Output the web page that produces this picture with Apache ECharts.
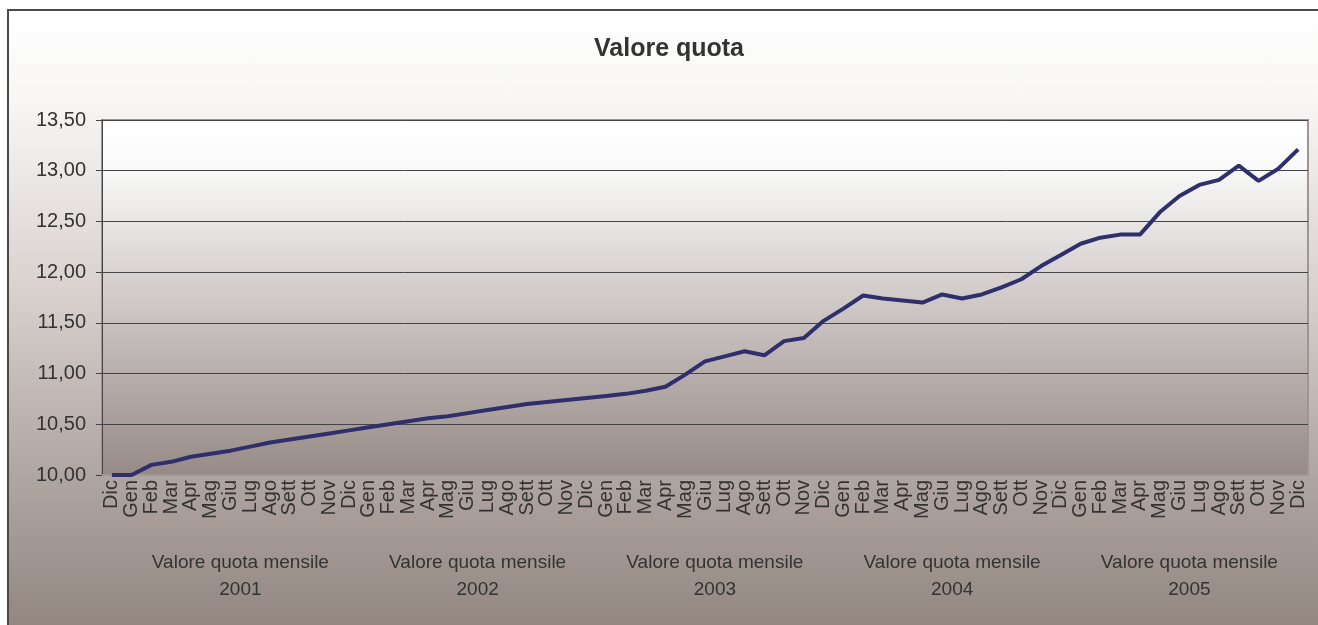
<!DOCTYPE html>
<html>
	<head>
		<meta charset="utf-8" />
		<title>Valore quota</title>
		<script src="https://cdn.jsdelivr.net/npm/echarts@6/dist/echarts.min.js"></script>
		<style>
			body { margin: 0; background: #fff; }
			#frame {
				position: absolute; left: 7px; top: 9px; width: 1311px; height: 616px;
				border-left: 2px solid #4a4a4a; border-top: 2px solid #4a4a4a;
				box-sizing: border-box;
				background: linear-gradient(to bottom, #ffffff 0%, #f7f6f5 15%, #d9d2cf 45%, #b0a6a2 75%, #948782 100%);
			}
			#main { position: absolute; left: 0; top: 0; width: 1318px; height: 625px; }
		</style>
	</head>
	<body>
		<div id="frame"></div>
		<div id="main"></div>
		<script>
			// mesi (etichette asse x)
			var mesi = ['Gen', 'Feb', 'Mar', 'Apr', 'Mag', 'Giu', 'Lug', 'Ago', 'Sett', 'Ott', 'Nov', 'Dic'];
			var anni = ['2001', '2002', '2003', '2004', '2005'];
			var gruppo = 'Valore quota mensile';
			// Dic 2000 + 5 anni di mesi
			var categorie = ['Dic'];
			anni.forEach(function () { categorie = categorie.concat(mesi); });

			// valore quota mensile
			var valori = [
				10.00,
				10.00, 10.10, 10.13, 10.18, 10.21, 10.24, 10.28, 10.32, 10.35, 10.38, 10.41, 10.44,
				10.47, 10.50, 10.53, 10.56, 10.58, 10.61, 10.64, 10.67, 10.70, 10.72, 10.74, 10.76,
				10.78, 10.80, 10.83, 10.87, 10.99, 11.12, 11.17, 11.22, 11.18, 11.32, 11.35, 11.52,
				11.64, 11.77, 11.74, 11.72, 11.70, 11.78, 11.74, 11.78, 11.85, 11.93, 12.06, 12.17,
				12.28, 12.34, 12.37, 12.37, 12.59, 12.75, 12.86, 12.91, 13.05, 12.90, 13.02, 13.21
			];

			// centro di ogni anno sull'asse (indice categoria)
			var centriAnni = anni.map(function (a, i) { return 6.5 + i * 12; });

			var font = 'Liberation Sans, Arial, sans-serif';
			var mycharts = echarts.init(document.getElementById('main'));
			var option = {
				backgroundColor: 'transparent',
				title: {
					text: 'Valore quota',
					left: 664,
					top: 32,
					textAlign: 'center',
					textStyle: { fontFamily: font, fontSize: 25, fontWeight: 'bold', color: '#333' }
				},
				grid: {
					left: 102, right: 10, top: 120, bottom: 150,
					show: true,
					borderColor: '#a09590',
					borderWidth: 2,
					backgroundColor: {
						type: 'linear', x: 0, y: 0, x2: 0, y2: 1,
						colorStops: [
							{ offset: 0, color: '#ffffff' },
							{ offset: 0.12, color: '#fbfbfb' },
							{ offset: 1, color: '#978a86' }
						]
					}
				},
				xAxis: [
					{
						type: 'category',
						data: categorie,
						boundaryGap: true,
						axisLine: { lineStyle: { color: '#a39894', width: 2 } },
						axisTick: { show: false },
						axisLabel: {
							interval: 0,
							rotate: 90,
							margin: 5,
							fontFamily: font,
							fontSize: 20,
							color: '#333'
						}
					},
					{
						// etichette di gruppo per anno
						type: 'value',
						position: 'bottom',
						min: -0.5,
						max: 60.5,
						axisLine: { show: false },
						axisTick: { show: false },
						splitLine: { show: false },
						axisLabel: {
							customValues: centriAnni,
							margin: 74,
							fontFamily: font,
							fontSize: 19,
							lineHeight: 27,
							color: '#333',
							formatter: function (v) {
								var i = Math.round((v - 6.5) / 12);
								return gruppo + '\n' + anni[i];
							}
						}
					}
				],
				yAxis: {
					type: 'value',
					min: 10,
					max: 13.5,
					interval: 0.5,
					axisLine: { show: true, onZero: false, lineStyle: { color: '#444', width: 1 } },
					axisTick: { show: true, length: 6, lineStyle: { color: '#444' } },
					splitLine: { lineStyle: { color: '#444', width: 1 } },
					axisLabel: {
						margin: 16,
						fontFamily: font,
						fontSize: 20,
						color: '#333',
						formatter: function (v) { return v.toFixed(2).replace('.', ','); }
					}
				},
				series: [
					{
						name: 'Valore quota mensile',
						type: 'line',
						data: valori,
						xAxisIndex: 0,
						symbol: 'none',
						smooth: false,
						lineStyle: { color: '#2f2f6c', width: 4 }
					}
				]
			};
			mycharts.setOption(option);
		</script>
	</body>
</html>
